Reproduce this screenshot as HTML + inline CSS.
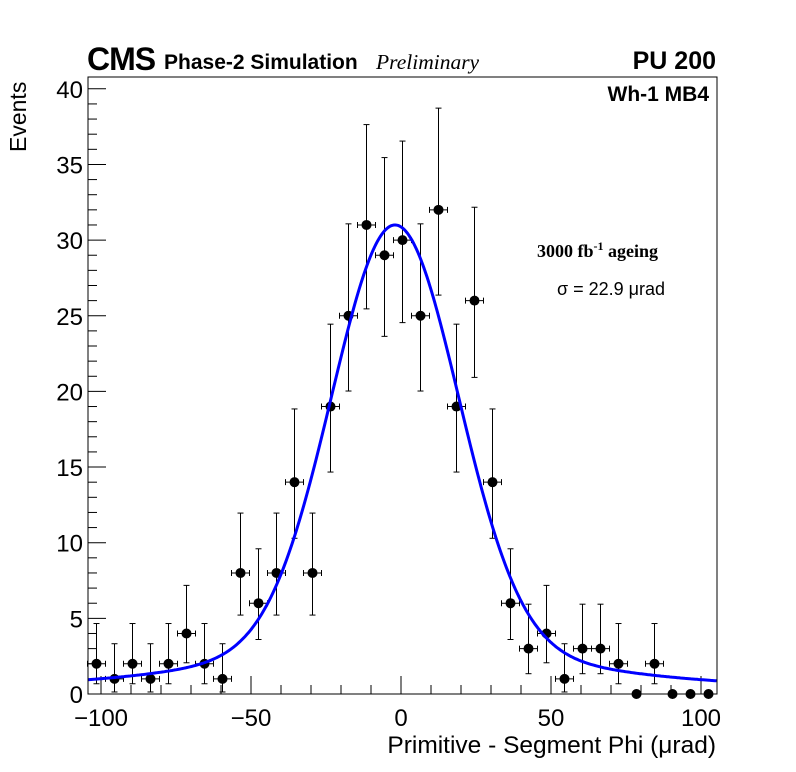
<!DOCTYPE html>
<html><head><meta charset="utf-8"><style>
html,body{margin:0;padding:0;background:#fff;}
svg{display:block;font-family:"Liberation Sans",sans-serif;}
</style></head><body>
<svg id="chart" width="796" height="772" viewBox="0 0 796 772">
<rect x="0" y="0" width="796" height="772" fill="#fff"/>
<g id="ticks"></g>
<g id="marks"></g>
<path id="fit" fill="none" stroke="#0000ff" stroke-width="3"/>
<rect x="88" y="77" width="629" height="617" fill="none" stroke="#000" stroke-width="1"/>
<text x="87" y="70" font-size="32" font-weight="bold" letter-spacing="-1">CMS</text>
<text x="164" y="69" font-size="21" font-weight="bold">Phase-2 Simulation</text>
<text x="376" y="69" font-size="21.5" font-style="italic" font-family="Liberation Serif, serif">Preliminary</text>
<text x="716" y="69" font-size="25" font-weight="bold" text-anchor="end">PU 200</text>
<text x="709" y="101" font-size="21" font-weight="bold" text-anchor="end">Wh-1 MB4</text>
<text x="537" y="257" font-size="18" font-weight="bold" font-family="Liberation Serif, serif">3000 fb<tspan dy="-7" font-size="12">-1</tspan><tspan dy="7"> ageing</tspan></text>
<text x="557" y="295" font-size="18">σ = 22.9 μrad</text>
<text x="716" y="753" font-size="24.5" text-anchor="end">Primitive - Segment Phi (μrad)</text>
<text transform="translate(26,152) rotate(-90)" font-size="23">Events</text>
</svg>
<script>
const binCenters = [-101.5,-95.5,-89.5,-83.5,-77.5,-71.5,-65.5,-59.5,-53.5,-47.5,-41.5,-35.5,-29.5,-23.5,-17.5,-11.5,-5.5,0.5,6.5,12.5,18.5,24.5,30.5,36.5,42.5,48.5,54.5,60.5,66.5,72.5,78.5,84.5,90.5,96.5,102.5];
const counts = [2,1,2,1,2,4,2,1,8,6,8,14,8,19,25,31,29,30,25,32,19,26,14,6,3,4,1,3,3,2,0,2,0,0,0];
const xTicks = [-100,-50,0,50,100];
const xTickLabels = ["\u2212100","\u221250","0","50","100"];
const yTicks = [0,5,10,15,20,25,30,35,40];
const fitCore = [28, -2, 21];   // amplitude, mean, sigma
const fitTail = [2.5, -2, 55];  // amplitude, mean, sigma
const fitConst = [0.5];
const binWidth = 6;

const X0=401, XS=3.0, Y0=694, YS=15.13;
const L=88, R=717, T=77, B=694;
const xp = v => X0 + v*XS;
const yp = v => Y0 - v*YS;
const NS='http://www.w3.org/2000/svg';
function mk(tag, attrs, parent){const e=document.createElementNS(NS,tag);for(const k in attrs)e.setAttribute(k,attrs[k]);parent.appendChild(e);return e;}
const tg=document.getElementById('ticks'), mg=document.getElementById('marks');

for(let v=-100; v<=100; v+=10){
  const major = v%50===0;
  const t=mk('line',{x1:xp(v),x2:xp(v),y1:B,y2:B-(major?18:9),stroke:'#000','stroke-width':1},tg);
  
  
}
xTicks.forEach((v,i)=>{
  const t=mk('text',{x:xp(v),y:726,'font-size':24,'text-anchor':'middle'},tg);
  t.textContent=xTickLabels[i];
  
  
});
for(let v=0; v<=40; v+=1){
  const major=v%5===0;
  const t=mk('line',{x1:L,x2:L+(major?18:9),y1:yp(v),y2:yp(v),stroke:'#000','stroke-width':1},tg);
  
  
}
yTicks.forEach(v=>{
  const t=mk('text',{x:83,y:yp(v)+9,'font-size':24,'text-anchor':'end'},tg);
  t.textContent=String(v);
  
  
});

binCenters.forEach((c,i)=>{
  const n=counts[i];
  const g=mk('g',{},mg);
  
  
  const x=xp(c), y=yp(n);
  if(n>0){
    const up=n+1+Math.sqrt(n+0.75), lo=Math.max(0,n-Math.sqrt(n-0.25));
    mk('line',{x1:x,x2:x,y1:yp(up),y2:yp(lo),stroke:'#000','stroke-width':1},g);
    mk('line',{x1:x-3,x2:x+3,y1:yp(up),y2:yp(up),stroke:'#000','stroke-width':1},g);
    mk('line',{x1:x-3,x2:x+3,y1:yp(lo),y2:yp(lo),stroke:'#000','stroke-width':1},g);
    mk('line',{x1:xp(c-binWidth/2),x2:xp(c+binWidth/2),y1:y,y2:y,stroke:'#000','stroke-width':1},g);
    mk('line',{x1:xp(c-binWidth/2),x2:xp(c-binWidth/2),y1:y-3,y2:y+3,stroke:'#000','stroke-width':1},g);
    mk('line',{x1:xp(c+binWidth/2),x2:xp(c+binWidth/2),y1:y-3,y2:y+3,stroke:'#000','stroke-width':1},g);
  }
  mk('circle',{cx:x,cy:y,r:5,fill:'#000'},g);
});

const gauss=(v,p)=>p[0]*Math.exp(-(v-p[1])*(v-p[1])/(2*p[2]*p[2]));
let d='';
const xmin=(L-X0)/XS, xmax=(R-X0)/XS;
for(let v=xmin; v<=xmax+0.01; v+=0.5){
  const f=gauss(v,fitCore)+gauss(v,fitTail)+fitConst[0];
  d+=(d?'L':'M')+xp(v).toFixed(1)+','+yp(f).toFixed(1);
}
document.getElementById('fit').setAttribute('d',d);
</script>
</body></html>
